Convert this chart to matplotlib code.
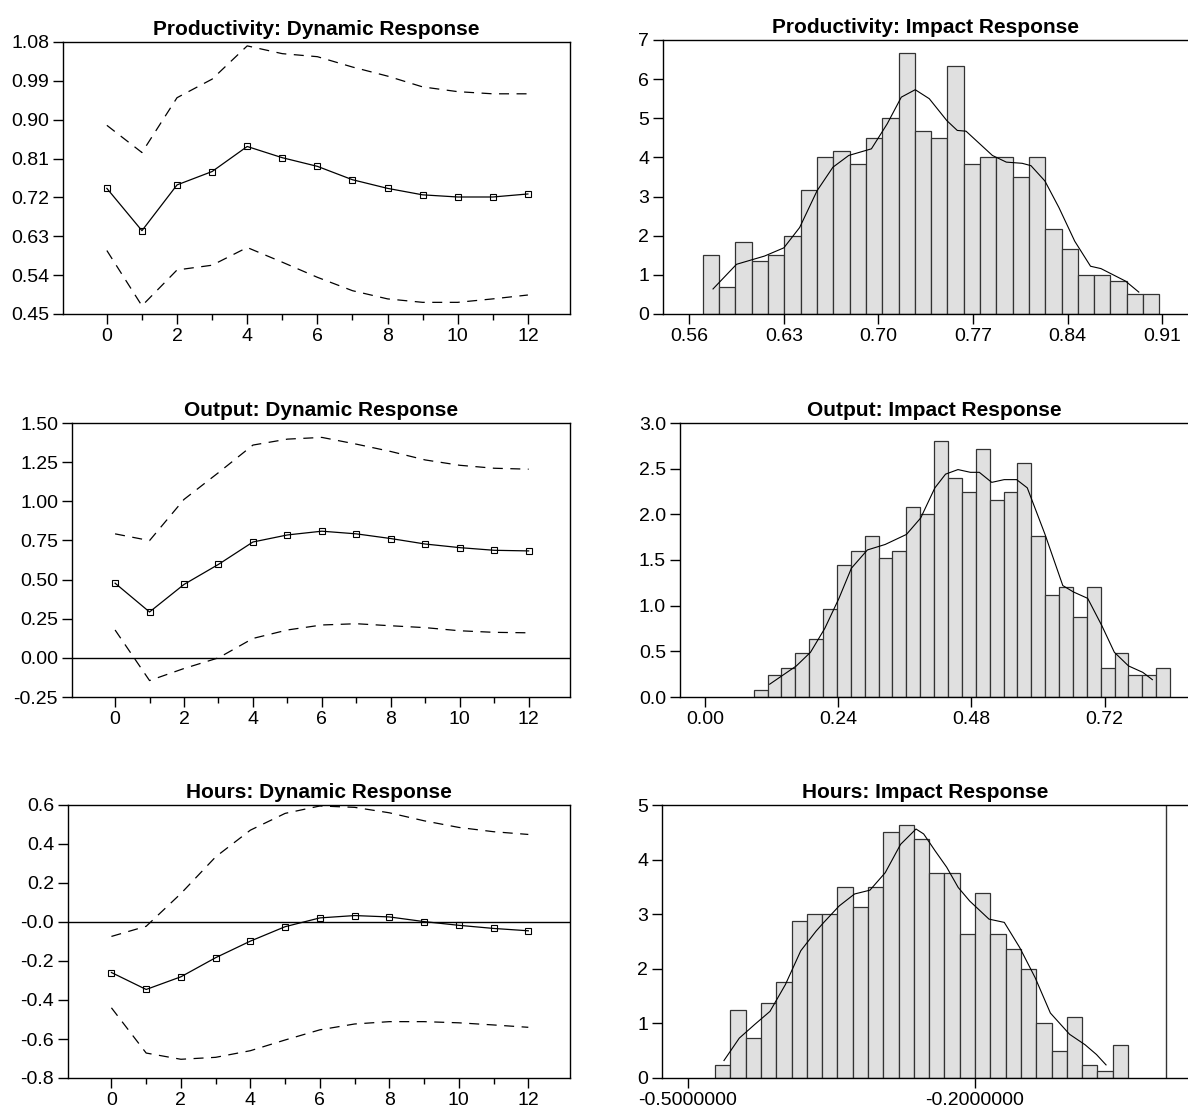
import numpy as np
import matplotlib
matplotlib.use("Agg")
import matplotlib.pyplot as plt
from matplotlib.ticker import MultipleLocator, FixedLocator

plt.rcParams['font.family'] = ['Liberation Sans', 'DejaVu Sans']

horizon = np.arange(13)

# dynamic responses: point estimate and bands
prod_mid = [0.741, 0.643, 0.749, 0.780, 0.838, 0.812, 0.792, 0.761, 0.741, 0.726, 0.721, 0.721, 0.728]
prod_hi = [0.887, 0.824, 0.951, 0.994, 1.071, 1.053, 1.046, 1.022, 1.001, 0.976, 0.965, 0.960, 0.960]
prod_lo = [0.597, 0.469, 0.552, 0.563, 0.604, 0.570, 0.535, 0.504, 0.485, 0.477, 0.477, 0.485, 0.494]

out_mid = [0.477, 0.293, 0.469, 0.597, 0.740, 0.785, 0.809, 0.792, 0.762, 0.727, 0.704, 0.687, 0.683]
out_hi = [0.792, 0.749, 1.012, 1.183, 1.359, 1.397, 1.408, 1.365, 1.318, 1.264, 1.230, 1.211, 1.205]
out_lo = [0.178, -0.145, -0.068, 0.0, 0.124, 0.178, 0.210, 0.218, 0.205, 0.193, 0.173, 0.163, 0.160]

hrs_mid = [-0.259, -0.346, -0.281, -0.183, -0.098, -0.024, 0.021, 0.033, 0.026, 0.002, -0.017, -0.033, -0.045]
hrs_hi = [-0.074, -0.022, 0.146, 0.334, 0.471, 0.557, 0.595, 0.588, 0.560, 0.519, 0.485, 0.463, 0.449]
hrs_lo = [-0.440, -0.672, -0.704, -0.694, -0.660, -0.605, -0.553, -0.523, -0.511, -0.511, -0.517, -0.528, -0.540]

# impact response histograms (density) and kernel density lines
prod_bins = (0.5701, 0.9078)
prod_hist = [1.5, 0.68, 1.83, 1.35, 1.5, 2.0, 3.16, 4.0, 4.17, 3.83, 4.5, 5.0, 6.66, 4.68,
             4.5, 6.34, 3.83, 4.0, 4.0, 3.5, 4.0, 2.16, 1.67, 1.0, 1.0, 0.84, 0.5, 0.5]
prod_kx = [0.5776, 0.5950, 0.6157, 0.63, 0.6417, 0.6546, 0.6663, 0.6780, 0.6948, 0.7065, 0.7169,
           0.7272, 0.7376, 0.7506, 0.7583, 0.7648, 0.7843, 0.7946, 0.8063, 0.8128, 0.8231, 0.8335,
           0.8452, 0.8569, 0.8646, 0.8828, 0.8926]
prod_ky = [0.64, 1.27, 1.48, 1.69, 2.21, 3.15, 3.75, 4.05, 4.22, 4.86, 5.54, 5.73, 5.50, 4.94, 4.69,
           4.67, 4.05, 3.88, 3.85, 3.79, 3.40, 2.72, 1.86, 1.22, 1.16, 0.84, 0.56]

out_bins = (0.0877, 0.8378)
out_hist = [0.08, 0.24, 0.32, 0.48, 0.64, 0.96, 1.44, 1.60, 1.76, 1.52, 1.60, 2.08, 2.0, 2.80, 2.40,
            2.24, 2.72, 2.16, 2.24, 2.56, 1.76, 1.12, 1.20, 0.88, 1.20, 0.32, 0.48, 0.24, 0.24, 0.32]
out_kx = [0.1165, 0.1645, 0.1901, 0.2157, 0.2413, 0.2637, 0.2925, 0.3245, 0.3629, 0.3885, 0.4141,
          0.4333, 0.4557, 0.4781, 0.4941, 0.5165, 0.5389, 0.5613, 0.5805, 0.6125, 0.6445, 0.6637,
          0.6893, 0.7149, 0.7373, 0.7629, 0.7885, 0.8058]
out_ky = [0.14, 0.34, 0.49, 0.75, 1.08, 1.41, 1.61, 1.67, 1.78, 1.96, 2.29, 2.44, 2.49, 2.46, 2.46,
          2.35, 2.38, 2.38, 2.29, 1.78, 1.22, 1.15, 1.08, 0.78, 0.49, 0.34, 0.27, 0.19]

hrs_bins = (-0.4715, -0.0397)
hrs_hist = [0.245, 1.25, 0.74, 1.37, 1.75, 2.88, 3.0, 3.0, 3.5, 3.13, 3.5, 4.51, 4.63, 4.38, 3.75,
            3.75, 2.63, 3.38, 2.63, 2.37, 2.0, 1.0, 0.50, 1.12, 0.245, 0.12, 0.61]
hrs_kx = [-0.4622, -0.4462, -0.4301, -0.4141, -0.3980, -0.3819, -0.3659, -0.3578, -0.3418, -0.3257,
          -0.3096, -0.2936, -0.2775, -0.2614, -0.2534, -0.2414, -0.2293, -0.2173, -0.2052, -0.1851,
          -0.1691, -0.1530, -0.1369, -0.1209, -0.1008, -0.0847, -0.0727, -0.0627]
hrs_ky = [0.32, 0.73, 0.98, 1.22, 1.71, 2.33, 2.69, 2.85, 3.15, 3.37, 3.44, 3.76, 4.28, 4.56, 4.47,
          4.16, 3.86, 3.49, 3.24, 2.91, 2.85, 2.39, 1.84, 1.19, 0.80, 0.61, 0.43, 0.24]

W, H = 1188, 1114
fig = plt.figure(figsize=(W / 100, H / 100), dpi=100)


def box(l, t, r, b):
    return [l / W, 1 - b / H, (r - l) / W, (b - t) / H]


def style(ax):
    ax.tick_params(direction='out', length=7, width=1, labelsize=14, colors='black', pad=3)
    ax.tick_params(which='minor', direction='out', length=4, width=1)
    for s in ax.spines.values():
        s.set_linewidth(1)


def dynamic(ax, mid, hi, lo, title, yticks, zero):
    ax.plot(horizon, hi, color='black', lw=0.9, dashes=(8, 6))
    ax.plot(horizon, lo, color='black', lw=0.9, dashes=(8, 6))
    ax.plot(horizon, mid, color='black', lw=0.9, marker='s', ms=4, mfc='none', mew=0.8)
    if zero:
        ax.axhline(0, color='black', lw=1)
    ax.set_xlim(-1.25, 13.2)
    ax.set_ylim(yticks[0], yticks[-1])
    ax.yaxis.set_major_locator(FixedLocator(yticks))
    ax.xaxis.set_major_locator(MultipleLocator(2))
    ax.xaxis.set_minor_locator(FixedLocator(range(1, 13, 2)))
    ax.set_title(title, fontsize=15, fontweight='bold', pad=5)
    style(ax)


def impact(ax, rng, hist, kx, ky, title, xlim, xticks, ymax, yticks, fmt):
    edges = np.linspace(rng[0], rng[1], len(hist) + 1)
    ax.bar(edges[:-1], hist, width=np.diff(edges), align='edge',
           color='#e0e0e0', edgecolor='#333333', linewidth=0.9)
    ax.plot(kx, ky, color='black', lw=0.8)
    ax.set_xlim(*xlim)
    ax.set_ylim(0, ymax)
    ax.xaxis.set_major_locator(FixedLocator(xticks))
    ax.set_xticklabels([fmt.format(v) for v in xticks])
    ax.yaxis.set_major_locator(FixedLocator(yticks))
    ax.spines['right'].set_visible(False)
    ax.set_title(title, fontsize=15, fontweight='bold', pad=5)
    style(ax)


ax = fig.add_axes(box(63, 42, 570, 314))
dynamic(ax, prod_mid, prod_hi, prod_lo, 'Productivity: Dynamic Response',
        [0.45, 0.54, 0.63, 0.72, 0.81, 0.90, 0.99, 1.08], False)
ax.set_yticklabels(['0.45', '0.54', '0.63', '0.72', '0.81', '0.90', '0.99', '1.08'])

ax = fig.add_axes(box(72, 423, 570, 697))
dynamic(ax, out_mid, out_hi, out_lo, 'Output: Dynamic Response',
        [-0.25, 0.0, 0.25, 0.5, 0.75, 1.0, 1.25, 1.5], True)
ax.set_yticklabels(['-0.25', '0.00', '0.25', '0.50', '0.75', '1.00', '1.25', '1.50'])

ax = fig.add_axes(box(68, 805, 570, 1078))
dynamic(ax, hrs_mid, hrs_hi, hrs_lo, 'Hours: Dynamic Response',
        [-0.8, -0.6, -0.4, -0.2, 0.0, 0.2, 0.4, 0.6], True)
ax.set_yticklabels(['-0.8', '-0.6', '-0.4', '-0.2', '-0.0', '0.2', '0.4', '0.6'])

ax = fig.add_axes(box(663, 40, 1188, 314))
impact(ax, prod_bins, prod_hist, prod_kx, prod_ky, 'Productivity: Impact Response',
       (0.5406, 0.929), [0.56, 0.63, 0.70, 0.77, 0.84, 0.91], 7, range(8), '{:.2f}')

ax = fig.add_axes(box(680, 423, 1188, 697))
impact(ax, out_bins, out_hist, out_kx, out_ky, 'Output: Impact Response',
       (-0.045, 0.87), [0.0, 0.24, 0.48, 0.72], 3.0,
       [0, 0.5, 1.0, 1.5, 2.0, 2.5, 3.0], '{:.2f}')
ax.set_yticklabels(['0.0', '0.5', '1.0', '1.5', '2.0', '2.5', '3.0'])

ax = fig.add_axes(box(662, 805, 1188, 1078))
impact(ax, hrs_bins, hrs_hist, hrs_kx, hrs_ky, 'Hours: Impact Response',
       (-0.527, 0.023), [-0.5, -0.2], 5, range(6), '{:.7f}')
ax.axvline(0, color='#333333', lw=1)

fig.savefig('out.png', dpi=100)
